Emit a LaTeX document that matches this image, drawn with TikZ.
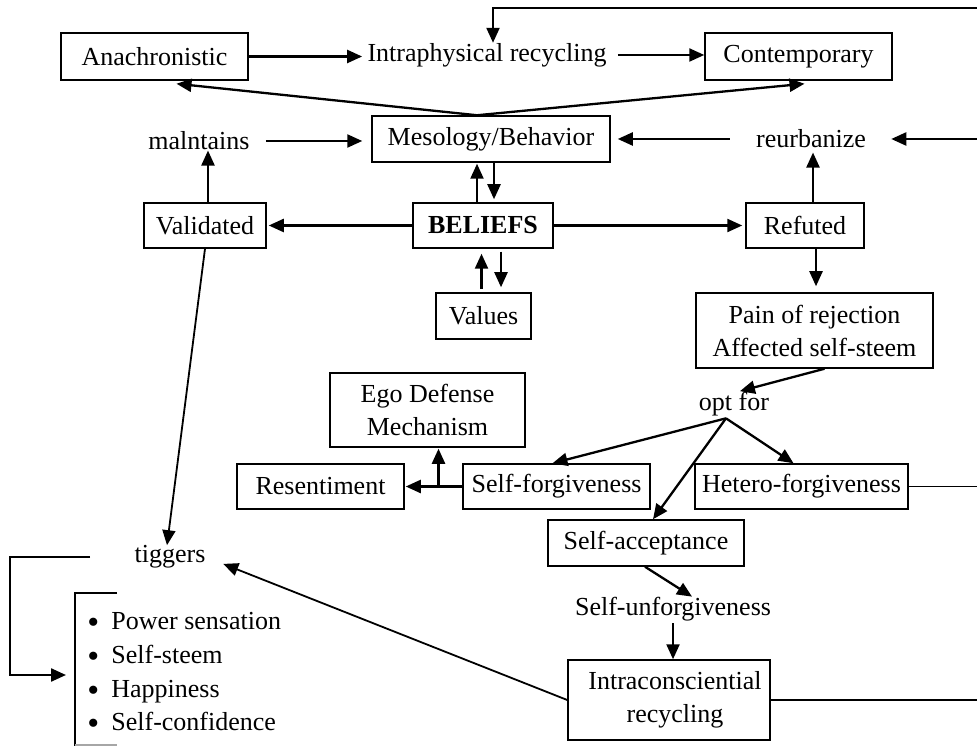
\documentclass[tikz,border=0pt]{standalone}
\usepackage{fontspec}
\setmainfont{Liberation Serif}
\usetikzlibrary{arrows.meta}
\newcommand{\itembullet}{\makebox[12pt][l]{\raisebox{-2pt}{\fontsize{17}{17}\selectfont\textbullet}}}
\begin{document}
\begin{tikzpicture}[x=0.5pt,y=-0.5pt,
  font=\fontsize{13}{16.5}\selectfont,
  box/.style 2 args={draw, line width=0.75pt, minimum width=#1*0.5pt,
    minimum height=#2*0.5pt, inner sep=1pt, align=center},
  lbl/.style={inner sep=0pt},
  conn/.style={line width=1.15pt},
  fine/.style={line width=0.9pt},
  tip/.style={-{Triangle[length=7.5pt,width=6.5pt]}},
  arr/.style={conn, tip},
  farr/.style={fine, tip}]
\useasboundingbox (0,0) rectangle (977,747);

% boxes and labels
\node[box={187}{47}] (anach) at (154.5,56.5) {Anachronistic};
\node[lbl] (intraph) at (487,55) {Intraphysical recycling};
\node[box={187}{47}] (contemp) at (798.5,56.5) {Contemporary};
\node[box={238}{46}] (meso) at (491,139) {Mesology/Behavior};
\node[lbl] (maint) at (199,141) {malntains};
\node[lbl] (reurb) at (811,139) {reurbanize};
\node[box={122}{45}] (valid) at (205,225.5) {Validated};
\node[box={140}{45}] (beliefs) at (483,225.5) {\textbf{BELIEFS}};
\node[box={118}{45}] (refuted) at (805,225.5) {Refuted};
\node[box={95}{46}] (values) at (483.5,316) {Values};
\node[box={237}{75}] (pain) at (814.5,330.5) {Pain of rejection\\Affected self-steem};
\node[lbl] (optfor) at (734,404) {opt for};
\node[box={195}{74}] (ego) at (427.5,410) {Ego Defense\\Mechanism};
\node[box={167}{45}] (resent) at (320.5,486.5) {Resentiment};
\node[box={187}{45}] (selff) at (556.5,486.5) {Self-forgiveness};
\node[box={213}{45}] (hetero) at (801.5,486.5) {Hetero-forgiveness};
\node[box={196}{46}] (selfacc) at (646,543) {Self-acceptance};
\node[lbl] (selfunf) at (673,609) {Self-unforgiveness};
\node[box={202}{80}] (intra) at (669,700) {\hspace*{6pt}Intraconsciential\\\hspace*{6pt}recycling};
\node[lbl] (tiggers) at (170,557) {tiggers};

% bulleted list
\node[lbl, anchor=base west] (it1) at (87,629) {\itembullet Power sensation};
\node[lbl, anchor=base west] (it2) at (87,663) {\itembullet Self-steem};
\node[lbl, anchor=base west] (it3) at (87,697) {\itembullet Happiness};
\node[lbl, anchor=base west] (it4) at (87,730) {\itembullet Self-confidence};
\draw[line width=1pt] (117,593) -- (75,593) -- (75,746);
\draw[line width=0.6pt, black!35] (75,745) -- (117,745);

% loose ends at the right border
\coordinate (eTop) at (977,8);
\coordinate (eReurb) at (977,139);
\coordinate (eRight) at (977,0);
\coordinate (loopc) at (10,675);
\coordinate (bkIn) at (66,675);
\coordinate (apex) at ([xshift=-7pt]meso.north);
\coordinate (fork) at ([xshift=-4pt,yshift=-1pt]optfor.south);

% top row
\draw[arr] (eTop) -| ([xshift=3pt]intraph.north);
\draw[arr, shorten >=2.5pt] (anach.east) -- (anach.east -| intraph.west);
\draw[arr, shorten <=5.5pt] (intraph.east) -- (intraph.east -| contemp.west);
\draw[arr] (apex) -- ([xshift=11pt,yshift=-1.5pt]anach.south);
\draw[arr] (apex) -- ([xshift=3pt,yshift=-1.5pt]contemp.south);

% second row
\draw[arr, shorten <=8pt, shorten >=4.5pt] (maint.east) -- (maint.east -| meso.west);
\draw[arr, shorten <=13pt, shorten >=3.5pt] (reurb.west) -- (reurb.west -| meso.east);
\draw[arr, shorten >=12.5pt] (eReurb) -- (reurb.east);

% beliefs row
\draw[arr] ([xshift=1.5pt]valid.north) -- ([xshift=1.5pt]valid.north |- maint.south);
\draw[arr, shorten >=1pt] (beliefs.west) -- (beliefs.west -| valid.east);
\draw[arr, shorten >=1.5pt] (beliefs.east) -- (beliefs.east -| refuted.west);
\draw[arr, shorten >=2pt] ([xshift=4pt]refuted.north) -- ([xshift=4pt]refuted.north |- reurb.south);
\draw[arr, shorten >=0.5pt] ([xshift=-3pt]beliefs.north) -- ([xshift=-3pt]beliefs.north |- meso.south);
\draw[arr, shorten >=1.5pt] ([xshift=1.5pt]meso.south) -- ([xshift=1.5pt]meso.south |- beliefs.north);
\draw[arr, shorten <=1.5pt, shorten >=2.5pt] ([xshift=-1pt]values.north) -- ([xshift=-1pt]values.north |- beliefs.south);
\draw[arr, shorten <=1.5pt, shorten >=2.5pt] ([xshift=9pt]beliefs.south) -- ([xshift=9pt]beliefs.south |- values.north);

% refutation branch
\draw[arr, shorten >=3pt] ([xshift=5.5pt]refuted.south) -- ([xshift=5.5pt]refuted.south |- pain.north);
\draw[arr, shorten >=1pt] ([xshift=5pt]pain.south) -- ([xshift=2pt]optfor.north);
\draw[arr] (fork) -- ([xshift=-2pt]selff.north);
\draw[arr] (fork) -- ([xshift=-4pt]hetero.north);
\draw[arr] (fork) -- ([xshift=3.5pt]selfacc.north);
\draw[arr, shorten >=0.5pt] (selff.west) -- (resent.east);
\draw[arr, shorten >=0.5pt] ([xshift=5.5pt]ego.south |- selff.west) -- ([xshift=5.5pt]ego.south);
\draw[arr] ([xshift=-0.5pt]selfacc.south) -- ([xshift=9.5pt]selfunf.north);
\draw[arr, shorten <=1pt] (selfunf.south) -- (selfunf.south |- intra.north);
\draw[fine] (hetero.east) -- (hetero.east -| eRight);
\draw[fine] (intra.east) -- (intra.east -| eRight);

% feedback to the left
\draw[farr, shorten >=9.4pt] (intra.west) -- (tiggers.east);
\draw[farr] (valid.south) -- ([xshift=-1.5pt]tiggers.north);
\draw[arr] ([xshift=-22pt]tiggers.west) -| (loopc) -- (bkIn);
\end{tikzpicture}
\end{document}
